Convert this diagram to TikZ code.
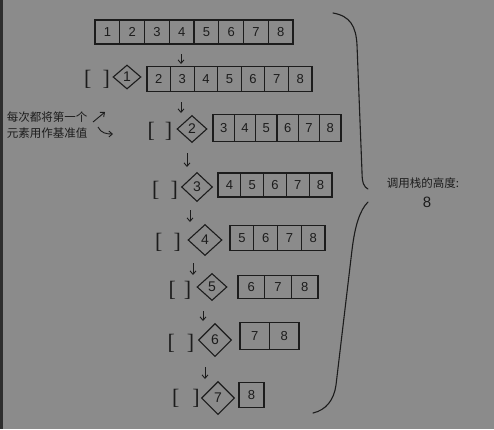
\documentclass[tikz,border=0pt]{standalone}
\usepackage{fontspec}
\setmainfont{Liberation Sans}
\newfontfamily\cjk{Noto Sans CJK SC}
\newfontfamily\brkfont{Liberation Serif}
\usetikzlibrary{shapes.geometric,arrows.meta}
\definecolor{bg}{HTML}{8B8B8B}
\definecolor{ink}{HTML}{1C1C1C}
\definecolor{strip}{HTML}{2E2E2E}
\tikzset{
  cell/.style={draw=ink,line width=1.1pt,inner sep=0pt,outer sep=0pt,font=\fontsize{13}{13}\selectfont,text=ink},
  pivot/.style={draw=ink,line width=1.1pt,diamond,inner sep=0pt,font=\fontsize{14}{14}\selectfont,text=ink},
  brk/.style={inner sep=0pt,text=ink,font=\brkfont\fontsize{22}{22}\selectfont},
  arr/.style={draw=ink,line width=0.9pt,-{Straight Barb[length=3.5pt,width=6pt]}},
  note/.style={text=ink,inner sep=0pt,font=\cjk\fontsize{11.5}{13}\selectfont},
}
\newcommand\cellrow[6]{%
  \pgfmathsetmacro\nn{9-#5}%
  \pgfmathsetmacro\ww{(#4-#3)/\nn}%
  \foreach \k in {#5,...,8} {%
    \pgfmathsetmacro\cx{#3+\ww*(\k-#5+0.5)}%
    \node[cell,minimum width=\ww pt,minimum height=#6pt] (#1-\k) at (\cx,#2) {\k};
  }%
}
\begin{document}
\begin{tikzpicture}[x=1pt,y=-1pt]
\fill[bg] (0,0) rectangle (494,429);
\fill[strip] (0,0) rectangle (3,429);
\useasboundingbox (0,0) rectangle (494,429);
% rows
\cellrow{ra}{32}{95}{293}{1}{24}
\cellrow{rb}{79}{147}{312}{2}{25}
\cellrow{rc}{128}{213}{341}{3}{27}
\cellrow{rd}{185}{218}{332}{4}{24}
\cellrow{re}{238}{230}{325}{5}{25}
\cellrow{rf}{287}{238}{318}{6}{23}
\cellrow{rg}{336}{240}{299}{7}{27}
\cellrow{rh}{395}{239}{264}{8}{25}
% brackets and pivots
\node[brk] (b1) at (97,79) {[\hspace{11pt}]};
\node[pivot,minimum width=28pt,minimum height=24pt] (p1) at (127,77) {1};
\node[brk] (b2) at (160,131) {[\hspace{10pt}]};
\node[pivot,minimum width=30pt,minimum height=27pt] (p2) at (192,129) {2};
\node[brk] (b3) at (165,190) {[\hspace{11pt}]};
\node[pivot,minimum width=31pt,minimum height=29pt] (p3) at (197,187) {3};
\node[brk] (b4) at (168,242) {[\hspace{11pt}]};
\node[pivot,minimum width=34pt,minimum height=31pt] (p4) at (205,240) {4};
\node[brk] (b5) at (180,290) {[\hspace{8pt}]};
\node[pivot,minimum width=30pt,minimum height=27pt] (p5) at (212,287) {5};
\node[brk] (b6) at (181,343) {[\hspace{12pt}]};
\node[pivot,minimum width=33pt,minimum height=33pt] (p6) at (215,340) {6};
\node[brk] (b7) at (186,398) {[\hspace{13pt}]};
\node[pivot,minimum width=33pt,minimum height=33pt] (p7) at (218,398) {7};
% down arrows
\coordinate (a1s) at (181,54); \coordinate (a1e) at (181,64);
\coordinate (a2s) at (181,102); \coordinate (a2e) at (181,113);
\coordinate (a3s) at (187,153); \coordinate (a3e) at (187,167);
\coordinate (a4s) at (190,210); \coordinate (a4e) at (190,222);
\coordinate (a5s) at (193,263); \coordinate (a5e) at (193,275);
\coordinate (a6s) at (203,311); \coordinate (a6e) at (203,321);
\coordinate (a7s) at (205,367); \coordinate (a7e) at (205,379);
\foreach \i in {1,...,7} \draw[arr] (a\i s) -- (a\i e);
% left note
\node[note] (n1) at (47,117) {每次都将第一个};
\node[note] (n2) at (47,133) {元素用作基准值};
\coordinate (n1s) at (93,122); \coordinate (n1e) at (105,112);
\draw[arr] (n1s) -- (n1e);
\coordinate (n2s) at (98,127); \coordinate (n2e) at (113,134);
\draw[arr] (n2s) .. controls (101,133) and (106,134) .. (n2e);
% brace
\draw[ink,line width=1.1pt,line cap=round] (333,13) .. controls (350,16) and (356,26) .. (357,45)
  -- (362,172) .. controls (362,183) and (364,187) .. (368,189);
\draw[ink,line width=1.1pt,line cap=round] (368,202) .. controls (360,210) and (355,225) .. (352,250)
  -- (336,385) .. controls (334,400) and (326,410) .. (313,413);
% right label
\node[note] (h1) at (423,183) {调用栈的高度:};
\node[text=ink,inner sep=0pt,font=\fontsize{15}{15}\selectfont] (h2) at (427,202) {8};
\end{tikzpicture}
\end{document}
